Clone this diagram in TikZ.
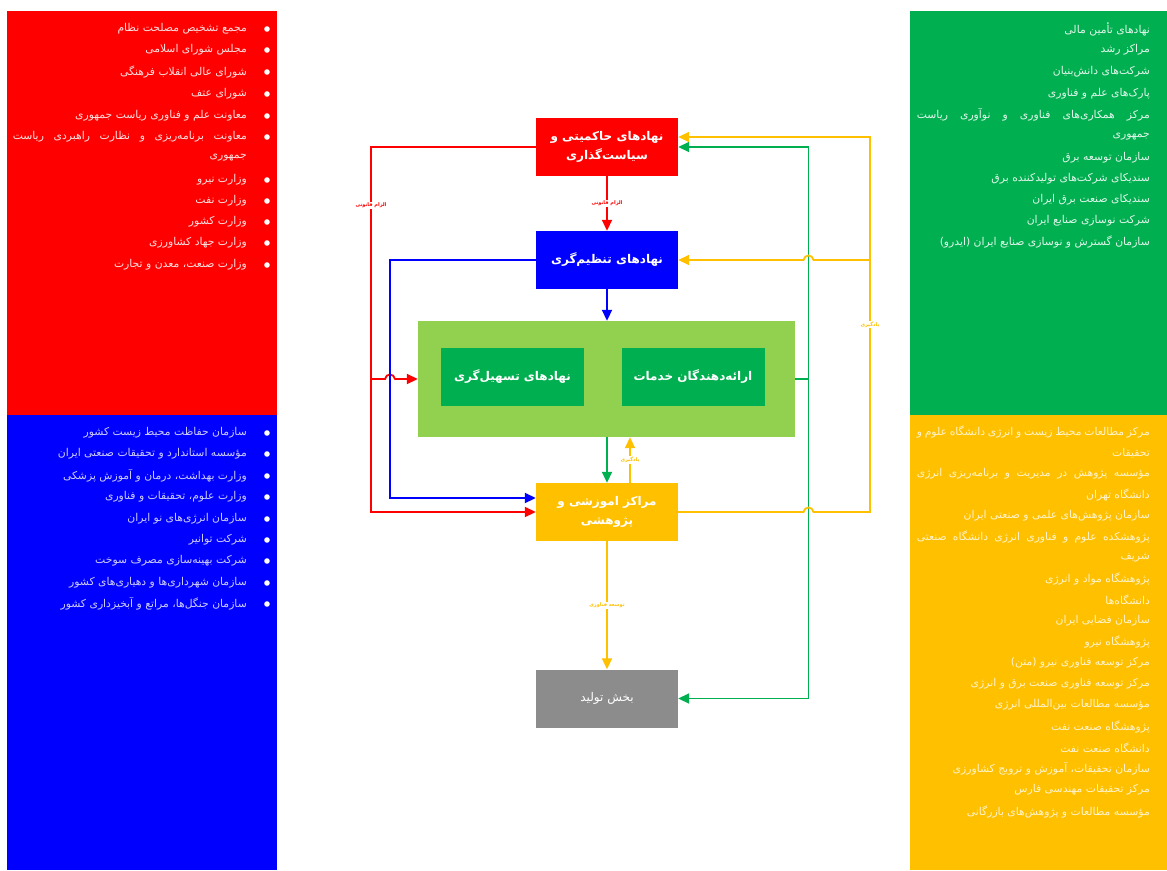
\documentclass[tikz,border=0pt]{standalone}
\usepackage{fontspec}
\usetikzlibrary{arrows.meta}
\TeXXeTstate=1
\newfontfamily\fa[Script=Arabic]{DejaVu Sans}
\newcommand{\RT}[1]{{\fa\beginR #1\endR}}
\definecolor{cRed}{HTML}{FF0000}
\definecolor{cBlue}{HTML}{0000FF}
\definecolor{cGreen}{HTML}{00B050}
\definecolor{cLGreen}{HTML}{92D050}
\definecolor{cYellow}{HTML}{FFC000}
\definecolor{cGray}{HTML}{8C8C8C}
\tikzset{
  li/.style={anchor=east, inner sep=0pt, font=\fa\fontsize{10.8}{12}\selectfont, text=#1},
  box/.style={minimum width=142pt, minimum height=58pt, inner sep=2pt, align=center, text=white,
    font=\fa\bfseries\fontsize{12}{19}\selectfont, fill=#1},
  inbox/.style={minimum width=143pt, minimum height=58pt, inner sep=2pt, align=center, text=white,
    font=\fa\bfseries\fontsize{12}{19}\selectfont, fill=cGreen},
  conn/.style={draw=#1, line width=1.8pt, -{Triangle[length=11pt,width=10pt]}},
  plain/.style={draw=#1, line width=1.8pt},
  lab/.style={fill=white, inner sep=0.8pt, text=#1, font=\fa\bfseries\fontsize{5}{6}\selectfont},
  bul/.style={fill=white},
}
\begin{document}
\begin{tikzpicture}[x=1pt,y=-1pt]
\useasboundingbox (0,0) rectangle (1167,870);
\fill[white] (0,0) rectangle (1167,870);
% panels
\fill[cRed] (7,11) rectangle (277,415);
\fill[cBlue] (7,415) rectangle (277,870);
\fill[cGreen] (910,11) rectangle (1167,415);
\fill[cYellow] (910,415) rectangle (1167,870);

% red list
\foreach \yy in {29,50,72,94,116,137,180,201,222,243,265} {\fill[bul] (267,\yy) circle (2.8);}
\node[li=white!88!cRed] (r1) at (247,29) {\RT{مجمع تشخیص مصلحت نظام}};
\node[li=white!88!cRed] (r2) at (247,50) {\RT{مجلس شورای اسلامی}};
\node[li=white!88!cRed] (r3) at (247,72) {\RT{شورای عالی انقلاب فرهنگی}};
\node[li=white!88!cRed] (r4) at (247,94) {\RT{شورای عتف}};
\node[li=white!88!cRed] (r5) at (247,116) {\RT{معاونت علم و فناوری ریاست جمهوری}};
\node[li=white!88!cRed] (r6) at (247,137) {\hbox to 234pt{\fa\beginR معاونت برنامه‌ریزی و نظارت راهبردی ریاست\endR}};
\node[li=white!88!cRed] (r6b) at (247,158) {\RT{جمهوری}};
\node[li=white!88!cRed] (r7) at (247,180) {\RT{وزارت نیرو}};
\node[li=white!88!cRed] (r8) at (247,201) {\RT{وزارت نفت}};
\node[li=white!88!cRed] (r9) at (247,222) {\RT{وزارت کشور}};
\node[li=white!88!cRed] (r10) at (247,243) {\RT{وزارت جهاد کشاورزی}};
\node[li=white!88!cRed] (r11) at (247,265) {\RT{وزارت صنعت، معدن و تجارت}};

% blue list
\foreach \yy in {433,454,476,497,519,540,561,583,604} {\fill[bul] (267,\yy) circle (2.8);}
\node[li=white!80!cBlue] (b1) at (247,433) {\RT{سازمان حفاظت محیط زیست کشور}};
\node[li=white!80!cBlue] (b2) at (247,454) {\RT{مؤسسه استاندارد و تحقیقات صنعتی ایران}};
\node[li=white!80!cBlue] (b3) at (247,476) {\RT{وزارت بهداشت، درمان و آموزش پزشکی}};
\node[li=white!80!cBlue] (b4) at (247,497) {\RT{وزارت علوم، تحقیقات و فناوری}};
\node[li=white!80!cBlue] (b5) at (247,519) {\RT{سازمان انرژی‌های نو ایران}};
\node[li=white!80!cBlue] (b6) at (247,540) {\RT{شرکت توانیر}};
\node[li=white!80!cBlue] (b7) at (247,561) {\RT{شرکت بهینه‌سازی مصرف سوخت}};
\node[li=white!80!cBlue] (b8) at (247,583) {\RT{سازمان شهرداری‌ها و دهیاری‌های کشور}};
\node[li=white!80!cBlue] (b9) at (247,604) {\RT{سازمان جنگل‌ها، مراتع و آبخیزداری کشور}};

% green list
\node[li=white!88!cGreen] (g1) at (1150,29) {\RT{نهادهای تأمین مالی}};
\node[li=white!88!cGreen] (g2) at (1150,50) {\RT{مراکز رشد}};
\node[li=white!88!cGreen] (g3) at (1150,72) {\RT{شرکت‌های دانش‌بنیان}};
\node[li=white!88!cGreen] (g4) at (1150,94) {\RT{پارک‌های علم و فناوری}};
\node[li=white!88!cGreen] (g5) at (1150,115) {\hbox to 233pt{\fa\beginR مرکز همکاری‌های فناوری و نوآوری ریاست\endR}};
\node[li=white!88!cGreen] (g5b) at (1150,137) {\RT{جمهوری}};
\node[li=white!88!cGreen] (g6) at (1150,158) {\RT{سازمان توسعه برق}};
\node[li=white!88!cGreen] (g7) at (1150,179) {\RT{سندیکای شرکت‌های تولیدکننده برق}};
\node[li=white!88!cGreen] (g8) at (1150,200) {\RT{سندیکای صنعت برق ایران}};
\node[li=white!88!cGreen] (g9) at (1150,221) {\RT{شرکت نوسازی صنایع ایران}};
\node[li=white!88!cGreen] (g10) at (1150,242) {\RT{سازمان گسترش و نوسازی صنایع ایران (ایدرو)}};

% yellow list
\node[li=white!80!cYellow] (y1) at (1150,432) {\hbox to 233pt{\fa\beginR مرکز مطالعات محیط زیست و انرژی دانشگاه علوم و\endR}};
\node[li=white!80!cYellow] (y1b) at (1150,453) {\RT{تحقیقات}};
\node[li=white!80!cYellow] (y2) at (1150,474) {\hbox to 233pt{\fa\beginR مؤسسه پژوهش در مدیریت و برنامه‌ریزی انرژی\endR}};
\node[li=white!80!cYellow] (y2b) at (1150,495) {\RT{دانشگاه تهران}};
\node[li=white!80!cYellow] (y3) at (1150,516) {\RT{سازمان پژوهش‌های علمی و صنعتی ایران}};
\node[li=white!80!cYellow] (y4) at (1150,537) {\hbox to 233pt{\fa\beginR پژوهشکده علوم و فناوری انرژی دانشگاه صنعتی\endR}};
\node[li=white!80!cYellow] (y4b) at (1150,558) {\RT{شریف}};
\node[li=white!80!cYellow] (y5) at (1150,579) {\RT{پژوهشگاه مواد و انرژی}};
\node[li=white!80!cYellow] (y6) at (1150,600) {\RT{دانشگاه‌ها}};
\node[li=white!80!cYellow] (y7) at (1150,621) {\RT{سازمان فضایی ایران}};
\node[li=white!80!cYellow] (y8) at (1150,642) {\RT{پژوهشگاه نیرو}};
\node[li=white!80!cYellow] (y9) at (1150,663) {\RT{مرکز توسعه فناوری نیرو (متن)}};
\node[li=white!80!cYellow] (y10) at (1150,684) {\RT{مرکز توسعه فناوری صنعت برق و انرژی}};
\node[li=white!80!cYellow] (y11) at (1150,705) {\RT{مؤسسه مطالعات بین‌المللی انرژی}};
\node[li=white!80!cYellow] (y12) at (1150,727) {\RT{پژوهشگاه صنعت نفت}};
\node[li=white!80!cYellow] (y13) at (1150,748) {\RT{دانشگاه صنعت نفت}};
\node[li=white!80!cYellow] (y14) at (1150,769) {\RT{سازمان تحقیقات، آموزش و ترویج کشاورزی}};
\node[li=white!80!cYellow] (y15) at (1150,790) {\RT{مرکز تحقیقات مهندسی فارس}};
\node[li=white!80!cYellow] (y16) at (1150,812) {\RT{مؤسسه مطالعات و پژوهش‌های بازرگانی}};

% central nodes
\node[box=cRed] (gov) at (607,147) {\RT{نهادهای حاکمیتی و}\\\RT{سیاست‌گذاری}};
\node[box=cBlue] (reg) at (607,260) {\RT{نهادهای تنظیم‌گری}};
\node[fill=cLGreen, minimum width=377pt, minimum height=116pt, inner sep=0pt] (cont) at (606.5,379) {};
\node[inbox] (fac) at (512.5,377) {\RT{نهادهای تسهیل‌گری}};
\node[inbox] (srv) at (693,377) {\RT{ارائه‌دهندگان خدمات}};
\node[box=cYellow] (res) at (607,512) {\RT{مراکز اموزشی و}\\\RT{پژوهشی}};
\node[box=cGray, font=\fa\fontsize{12}{19}\selectfont] (prod) at (607,698.5) {\RT{بخش تولید}};

% red connectors
\draw[conn=cRed] (gov.south) -- node[lab=cRed, pos=0.5] (l1) {\RT{الزام قانونی}} (reg.north);
\coordinate (rA) at (371,147);
\coordinate (rB) at (371,379);
\draw[conn=cRed] (gov.west) -- (rA) -- node[lab=cRed, pos=0.16] (l2) {\RT{الزام قانونی}} (371,512) -- (res.west);
\draw[conn=cRed] (rB) -- (385,379) .. controls (386,373) and (394,373) .. (395,379) -- (cont.west);

% blue connectors
\draw[conn=cBlue] (reg.south) -- (reg.south |- cont.north);
\draw[conn=cBlue] (reg.west) -- (390,260) -- (390,498) -- ([yshift=14pt]res.west);

% green / yellow between container and research
\draw[conn=cGreen] (res.north |- cont.south) -- (res.north);
\draw[conn=cYellow] ([xshift=23pt]res.north) -- node[lab=cYellow, pos=0.5] (l3) {\RT{یادگیری}} ([xshift=23pt]res.north |- cont.south);
\draw[conn=cYellow] (res.south) -- node[lab=cYellow, pos=0.5] (l4) {\RT{توسعه فناوری}} (prod.north);

% green right
\coordinate (gA) at (808.5,379);
\draw[plain=cGreen] (cont.east) -- (gA);
\draw[conn=cGreen] (gA) |- (gov.east);
\draw[conn=cGreen] (gA) |- (prod.east);

% yellow right
\coordinate (yA) at (870,260);
\draw[conn=cYellow] (res.east) -- (803.5,512) .. controls (804.5,506) and (812.5,506) .. (813.5,512) -- (870,512)
  -- node[lab=cYellow, pos=0.5] (l5) {\RT{یادگیری}} (870,137) -- ([yshift=10pt]gov.east);
\draw[conn=cYellow] (yA) -- (813.5,260) .. controls (812.5,254) and (804.5,254) .. (803.5,260) -- (reg.east);
\end{tikzpicture}
\end{document}
